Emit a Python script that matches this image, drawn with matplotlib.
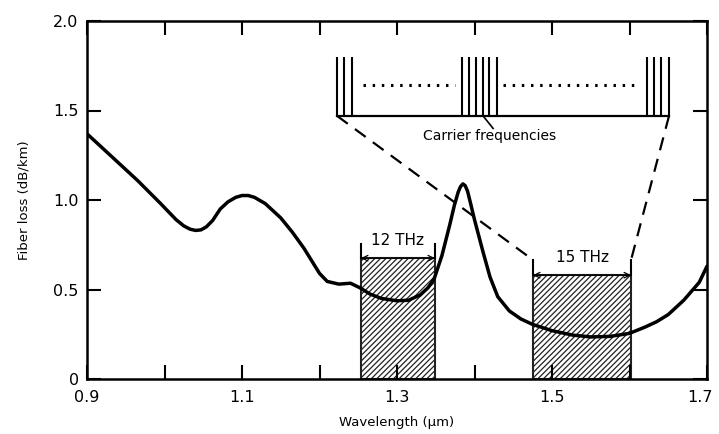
import numpy as np
import matplotlib.pyplot as plt
import matplotlib.transforms as mtransforms

plt.rcParams['font.family'] = ['DejaVu Sans']

# loss curve
wl = [0.900, 0.930, 0.965, 0.995, 1.015, 1.025, 1.033, 1.040, 1.047, 1.054,
      1.062, 1.072, 1.082, 1.092, 1.100, 1.108, 1.116, 1.130, 1.150, 1.165,
      1.180, 1.190, 1.200, 1.210, 1.225, 1.240, 1.252, 1.265, 1.280, 1.300,
      1.315, 1.330, 1.340, 1.348, 1.358, 1.368, 1.374, 1.379, 1.382, 1.385,
      1.388, 1.391, 1.395, 1.400, 1.411, 1.420, 1.430, 1.445, 1.460, 1.475,
      1.500, 1.527, 1.550, 1.575, 1.600, 1.620, 1.635, 1.650, 1.670, 1.690,
      1.700]
loss = [1.37, 1.25, 1.11, 0.98, 0.89, 0.855, 0.837, 0.83, 0.833, 0.85,
        0.885, 0.95, 0.99, 1.015, 1.025, 1.025, 1.015, 0.98, 0.90, 0.82,
        0.73, 0.66, 0.59, 0.545, 0.53, 0.535, 0.51, 0.475, 0.45, 0.437,
        0.44, 0.47, 0.51, 0.56, 0.69, 0.86, 0.97, 1.045, 1.075, 1.09,
        1.08, 1.05, 0.98, 0.89, 0.71, 0.57, 0.46, 0.38, 0.335, 0.305,
        0.27, 0.245, 0.235, 0.238, 0.255, 0.29, 0.32, 0.36, 0.44, 0.54,
        0.63]

# hatched windows
win_lo = [1.2535, 1.4755]
win_hi = [1.349, 1.602]
win_top = [0.675, 0.58]
win_post = [0.755, 0.665]
win_lbl = ['12 THz', '15 THz']

# carrier comb
comb_x = [1.2226, 1.2316, 1.2419,
          1.3839, 1.393, 1.4019, 1.411, 1.4187, 1.429,
          1.6226, 1.6316, 1.6406, 1.651]
comb_base, comb_top, dot_y = 1.47, 1.80, 1.64
dots = [(1.256, 1.375), (1.437, 1.611)]

plt.rcParams['hatch.linewidth'] = 0.9

fig = plt.figure(figsize=(7.19, 4.34), dpi=100)
ax = fig.add_axes([87/719, 55/434, 620/719, 358/434])

for lo, hi, top in zip(win_lo, win_hi, win_top):
    ax.bar(lo, top, width=hi - lo, align='edge', facecolor='white',
           edgecolor='#222222', hatch='//////', linewidth=1.5, zorder=1)

ax.plot(wl, loss, color='black', lw=2.5, zorder=3, solid_capstyle='round',
        solid_joinstyle='round')

for lo, hi, top, post, lbl in zip(win_lo, win_hi, win_top, win_post, win_lbl):
    ax.plot([lo, lo], [top, post], color='black', lw=1.5, zorder=2)
    ax.plot([hi, hi], [top, post], color='black', lw=1.5, zorder=2)
    ax.annotate('', xy=(lo, top), xytext=(hi, top),
                arrowprops=dict(arrowstyle='<->', lw=0.9, color='black',
                                shrinkA=0, shrinkB=0), zorder=4)
    ax.text((lo + hi) / 2, top + 0.1, lbl, ha='center', va='center',
            fontsize=11, zorder=4)

# dashed lines to comb
ax.plot([comb_x[0], win_lo[1]], [comb_base, win_post[1]], color='black',
        lw=1.6, ls=(0, (6, 4)))
ax.plot([comb_x[-1], win_hi[1]], [comb_base, win_post[1]], color='black',
        lw=1.6, ls=(0, (6, 4)))

# comb
ax.plot([comb_x[0], comb_x[-1]], [comb_base, comb_base], color='black', lw=1.6)
ax.vlines(comb_x, comb_base, comb_top, color='black', lw=1.5)
for a, b in dots:
    ax.plot([a, b], [dot_y, dot_y], color='black', lw=2.2, ls=(0, (0.8, 2.2)))
ax.plot([1.411, 1.424], [comb_base, 1.40], color='black', lw=1.2)
ax.text(1.42, 1.36, 'Carrier frequencies', ha='center', va='center', fontsize=10)

ax.set_xlim(0.9, 1.7)
ax.set_ylim(0, 2.0)
ax.set_xticks([0.9, 1.1, 1.3, 1.5, 1.7])
ax.set_xticklabels(['0.9', '1.1', '1.3', '1.5', '1.7'])
ax.set_xticks([1.0, 1.2, 1.4, 1.6], minor=True)
ax.set_yticks([0, 0.5, 1.0, 1.5, 2.0])
ax.set_yticklabels(['0', '0.5', '1.0', '1.5', '2.0'])
ax.tick_params(which='both', direction='in', length=10, width=1.5,
               top=True, right=True, labelsize=11.5, pad=6)
ax.tick_params(axis='x', pad=8)
for s in ax.spines.values():
    s.set_linewidth(1.8)
ax.set_xlabel('Wavelength (μm)', fontsize=9.5, labelpad=8)
ax.set_ylabel('Fiber loss (dB/km)', fontsize=9.5, labelpad=16)

# keep "1.7" inside the canvas
last = ax.get_xticklabels()[-1]
last.set_transform(last.get_transform() +
                   mtransforms.ScaledTranslation(-5/72, 0, fig.dpi_scale_trans))

fig.savefig('out.png', dpi=100)
